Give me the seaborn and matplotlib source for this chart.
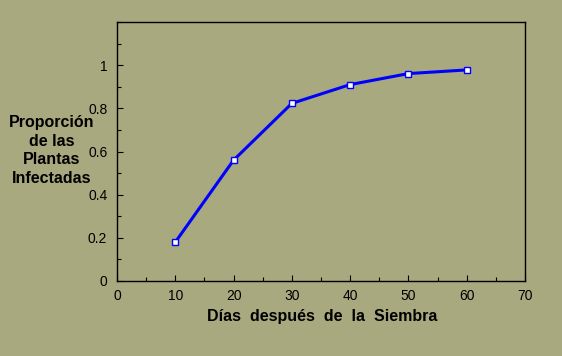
import matplotlib
matplotlib.use("Agg")
import matplotlib.pyplot as plt
import seaborn as sns
import pandas as pd
from matplotlib.ticker import MultipleLocator

dias = [10, 20, 30, 40, 50, 60]
proporcion = [0.18, 0.56, 0.823, 0.91, 0.961, 0.978]
x_ticks = [0, 10, 20, 30, 40, 50, 60, 70]
y_ticks = [0, 0.2, 0.4, 0.6, 0.8, 1]
y_tick_labels = ["0", "0.2", "0.4", "0.6", "0.8", "1"]
ylabel_lines = ["Proporción", "de las", "Plantas", "Infectadas"]
xlabel = "Días  después  de  la  Siembra"

bg = "#A9A97F"
sns.set_theme(style="ticks")
plt.rcParams['font.family'] = ['Liberation Sans', 'DejaVu Sans']

df = pd.DataFrame({"dias": dias, "prop": proporcion})

fig = plt.figure(figsize=(5.62, 3.56), dpi=100, facecolor=bg)
ax = fig.add_axes([117/562, 1-281/356, (525-117)/562, (281-22)/356])
ax.set_facecolor(bg)

sns.lineplot(data=df, x="dias", y="prop", ax=ax, color="#0000FF", linewidth=2.2,
             marker="s", markersize=5, markerfacecolor="white",
             markeredgecolor="#0000FF", markeredgewidth=1)

ax.set_xlim(0, 70)
ax.set_ylim(0, 1.2)
ax.set_xticks(x_ticks)
ax.set_xticklabels([str(v) for v in x_ticks])
ax.set_yticks(y_ticks)
ax.set_yticklabels(y_tick_labels)
ax.xaxis.set_minor_locator(MultipleLocator(5))
ax.yaxis.set_minor_locator(MultipleLocator(0.1))
ax.tick_params(which="both", direction="in", color="black", top=False, right=False)
ax.tick_params(which="major", length=4, width=0.8, labelsize=10, labelcolor="black")
ax.tick_params(axis="x", which="major", pad=6)
ax.tick_params(axis="y", which="major", pad=7)
ax.tick_params(which="minor", length=3, width=0.8)
for s in ax.spines.values():
    s.set_color("black")
    s.set_linewidth(1)

ax.set_xlabel("")
ax.set_ylabel("")
fig.text(322/562, 1-317/356, xlabel, ha="center", va="center",
         fontsize=11.5, fontweight="bold", color="black")
baselines = [127, 146, 164.5, 183]
for line, yb in zip(ylabel_lines, baselines):
    fig.text(52/562, 1-yb/356, line, ha="center", va="baseline",
             fontsize=11.5, fontweight="bold", color="black")

fig.savefig("out.png", dpi=100, facecolor=bg)
